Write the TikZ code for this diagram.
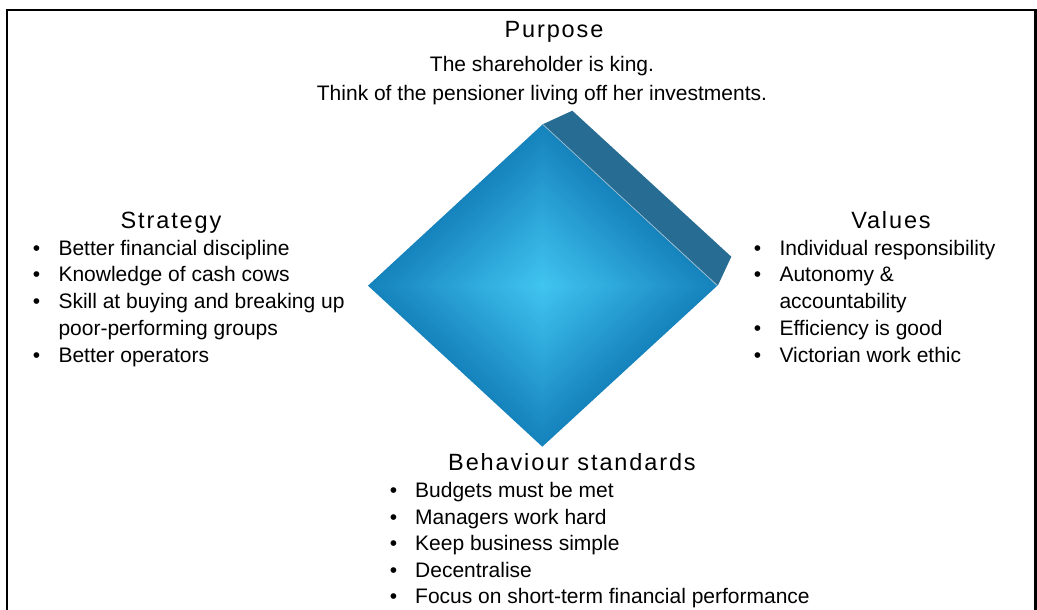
\documentclass[tikz,border=0pt]{standalone}
\usepackage{fontspec}
\setmainfont{Liberation Sans}
\newfontfamily\headfamily[LetterSpace=8]{Liberation Sans}
\newcommand\bodyfont{\fontsize{21}{26}\selectfont}
\newcommand\headfont{\headfamily\fontsize{23.5}{28}\selectfont}
\definecolor{faceinner}{HTML}{40C4F0}
\definecolor{faceouter}{HTML}{1683BD}
\definecolor{sideface}{HTML}{266C93}
\definecolor{edgelight}{HTML}{9DBFD0}
\tikzset{
  head/.style={font=\headfont, inner sep=0pt, anchor=base},
  centreline/.style={font=\bodyfont, inner sep=0pt, anchor=base},
  item/.style={font=\bodyfont, inner sep=0pt, anchor=base west},
  bullet/.style={font=\bodyfont, inner sep=0pt, anchor=base},
}
\begin{document}
\begin{tikzpicture}[x=1pt,y=-1pt]
\useasboundingbox (0,0) rectangle (1037,610);
% open frame
\draw[line width=2.2pt] (7,612) -- (7,10) -- (1035.5,10) -- (1035.5,612);

% side face of the tilted block
\fill[sideface] (542.7,124.3) -- (572.3,110.7) -- (731.3,256.7) -- (717.8,285.7) -- cycle;
% front face: rectangular gradient built from nested quads
\foreach \i in {0,...,60}{
  \pgfmathsetmacro\s{1-\i/61}
  \pgfmathtruncatemacro\p{100*\i/60}
  \fill[faceinner!\p!faceouter, shift={(542.5,285.7)}, scale=\s]
    (0.2,-161.4) -- (-174.5,0) -- (-0.2,161) -- (174.8,0) -- cycle;
}
\draw[edgelight, line width=0.7pt] (542.7,124.3) -- (717.5,285.7);

% Purpose
\node[head] (purpose) at (554,37.3) {Purpose};
\node[centreline] (purpose1) at (542,72) {The shareholder is king.};
\node[centreline] (purpose2) at (542,101) {Think of the pensioner living off her investments.};

% Strategy
\node[head] (strategy) at (171,228) {Strategy};
\node[bullet] (sb1) at (36.5,255) {•};
\node[item] (st1) at (58.3,255) {Better financial discipline};
\node[bullet] (sb2) at (36.5,281.8) {•};
\node[item] (st2) at (58.3,281.8) {Knowledge of cash cows};
\node[bullet] (sb3) at (36.5,308.5) {•};
\node[item] (st3) at (58.3,308.5) {Skill at buying and breaking up};
\node[item] (st3b) at (58.3,335.3) {poor-performing groups};
\node[bullet] (sb4) at (36.5,362) {•};
\node[item] (st4) at (58.3,362) {Better operators};

% Values
\node[head] (values) at (891,228) {Values};
\node[bullet] (vb1) at (757.5,255) {•};
\node[item] (vt1) at (779.3,255) {Individual responsibility};
\node[bullet] (vb2) at (757.5,281.8) {•};
\node[item] (vt2) at (779.3,281.8) {Autonomy \&};
\node[item] (vt2b) at (779.3,308.5) {accountability};
\node[bullet] (vb3) at (757.5,335.3) {•};
\node[item] (vt3) at (779.3,335.3) {Efficiency is good};
\node[bullet] (vb4) at (757.5,362) {•};
\node[item] (vt4) at (779.3,362) {Victorian work ethic};

% Behaviour standards
\node[head] (behaviour) at (572,470) {Behaviour standards};
\node[bullet] (bb1) at (393.5,497.5) {•};
\node[item] (bt1) at (415,497.5) {Budgets must be met};
\node[bullet] (bb2) at (393.5,524) {•};
\node[item] (bt2) at (415,524) {Managers work hard};
\node[bullet] (bb3) at (393.5,550.5) {•};
\node[item] (bt3) at (415,550.5) {Keep business simple};
\node[bullet] (bb4) at (393.5,577) {•};
\node[item] (bt4) at (415,577) {Decentralise};
\node[bullet] (bb5) at (393.5,603.5) {•};
\node[item] (bt5) at (415,603.5) {Focus on short-term financial performance};
\end{tikzpicture}
\end{document}
